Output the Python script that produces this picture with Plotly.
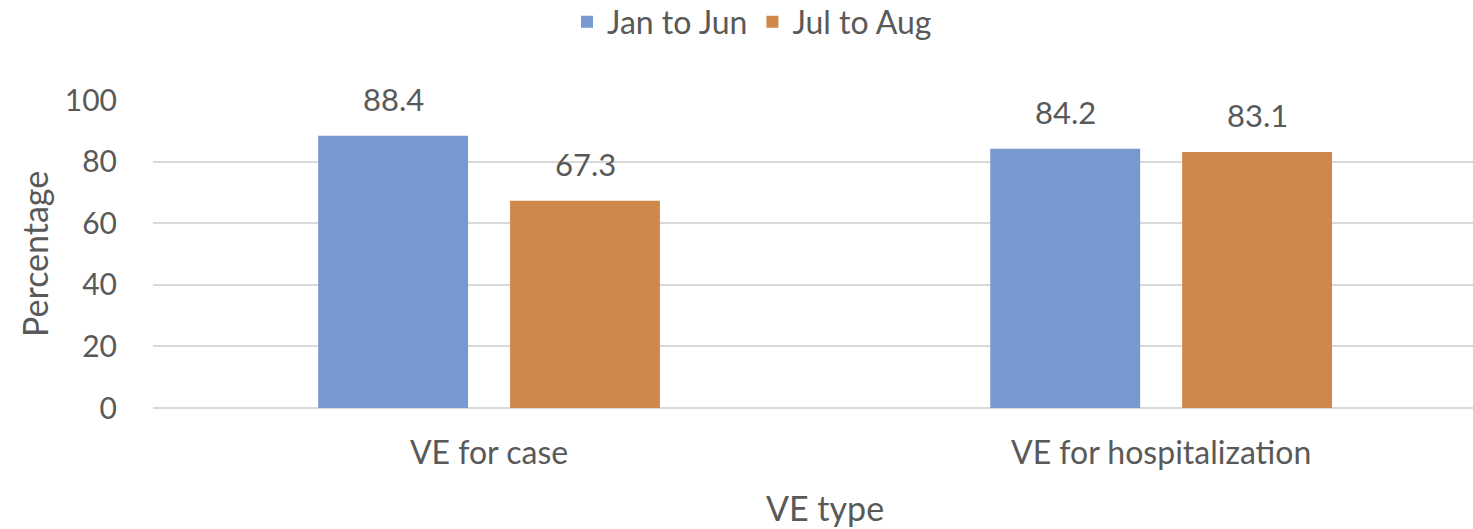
import plotly.graph_objects as go

categories = ["VE for case", "VE for hospitalization"]
series_names = ["Jan to Jun", "Jul to Aug"]
jan_jun = [88.4, 84.2]
jul_aug = [67.3, 83.1]
y_ticks = [0, 20, 40, 60, 80, 100]

colors = ["#7699d0", "#cf874a"]
text_color = "#595959"
font_family = "Lato, Open Sans, sans-serif"
fs = 31
title_fs = 34

fig = go.Figure()
for name, vals, col in zip(series_names, [jan_jun, jul_aug], colors):
    fig.add_trace(go.Bar(name=name, x=categories, y=vals, marker=dict(color=col, line=dict(width=0))))

# data labels above bars
offsets = [-96, 96]
for vals, dx in zip([jan_jun, jul_aug], offsets):
    for cat, v in zip(categories, vals):
        fig.add_annotation(x=cat, y=v, text=f"{v:.1f}", showarrow=False, xref="x", yref="y",
                           xshift=dx, yshift=37, yanchor="middle",
                           font=dict(size=fs, color=text_color, family=font_family))

# x-axis title centered on full category band
fig.add_annotation(x=0.5, y=0, xref="x", yref="paper", text="VE type", showarrow=False,
                   yshift=-99, yanchor="middle",
                   font=dict(size=title_fs, color=text_color, family=font_family))
# y-axis title
fig.add_annotation(x=0, y=0.5, xref="paper", yref="paper", text="Percentage", showarrow=False,
                   xshift=-119, xanchor="center", yanchor="middle", textangle=-90,
                   font=dict(size=title_fs, color=text_color, family=font_family))

fig.update_layout(
    width=1473, height=529,
    margin=dict(l=153, r=0, t=100, b=121, autoexpand=False),
    plot_bgcolor="white", paper_bgcolor="white",
    barmode="group", bargap=0.429, bargroupgap=0.219,
    font=dict(family=font_family, size=fs, color=text_color),
    showlegend=True,
    legend=dict(orientation="h", x=(752 - 153) / 1320, xanchor="center", y=1.0 + 78 / 308,
                yanchor="middle", font=dict(size=32, color=text_color),
                itemwidth=30, traceorder="normal"),
    xaxis=dict(range=[-0.5, 1.464], showgrid=False, showline=False, zeroline=False, automargin=False,
               ticks="", ticklabelstandoff=23, tickfont=dict(size=32, color=text_color)),
    yaxis=dict(range=[0, 100], tickvals=y_ticks, showgrid=True, gridcolor="#d9d9d9", gridwidth=2,
               zeroline=True, zerolinecolor="#d9d9d9", zerolinewidth=2, showline=False, automargin=False,
               ticks="", ticklabelstandoff=35, tickfont=dict(size=30, color=text_color)),
)

fig.write_html("out.html", config={"displayModeBar": False},
               post_script="document.body.style.margin='0';document.body.style.overflow='hidden';")
